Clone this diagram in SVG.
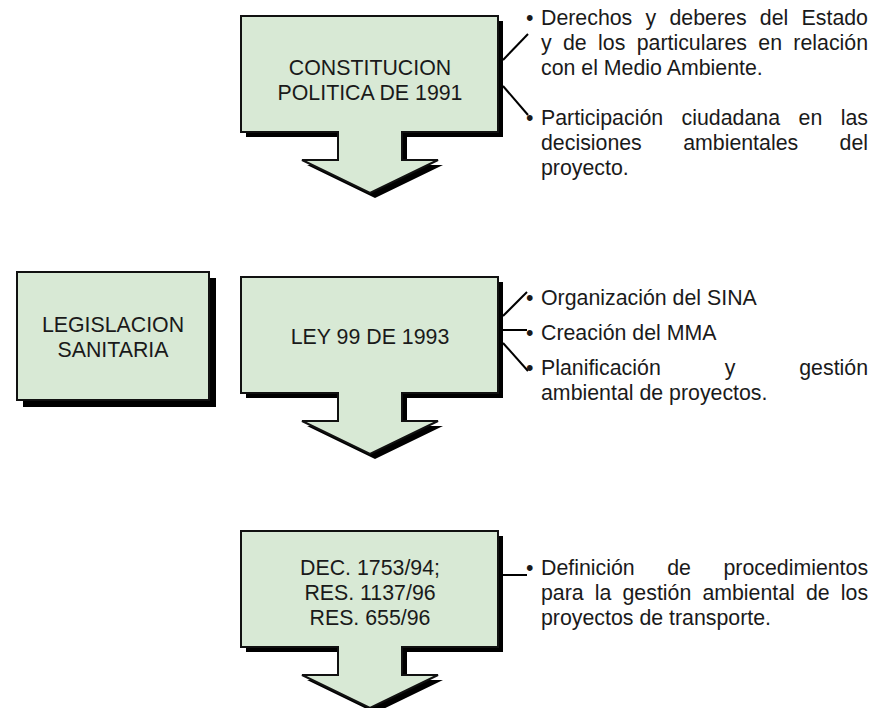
<svg xmlns="http://www.w3.org/2000/svg" width="893" height="708" viewBox="0 0 893 708">
<style>
text{font-family:"Liberation Sans",Arial,sans-serif;font-size:21.33px;fill:#1a1a1a}
.c{text-anchor:middle}
.box{fill:#d8e9d5;stroke:#111;stroke-width:2}
.sh{fill:#000}
.ln{stroke:#000;stroke-width:2;fill:none}
</style>
<defs>
<path id="arr" d="M0,0 H257 V116 H161 V144 H197 L129,177 L61,144 H97 V116 H0 Z"/>
</defs>
<rect width="893" height="708" fill="#fff"/>
<g id="n-legislacion">
<rect class="sh" x="23" y="278" width="193" height="129"/>
<rect class="box" x="17" y="272" width="192" height="128"/>
<text class="c" x="113" y="332">LEGISLACION</text>
<text class="c" x="113" y="357">SANITARIA</text>
</g>
<g id="n-constitucion">
<use href="#arr" class="sh" x="246" y="21"/>
<use href="#arr" class="box" x="241" y="16"/>
<text class="c" x="370" y="75">CONSTITUCION</text>
<text class="c" x="370" y="100">POLITICA DE 1991</text>
</g>
<g id="n-ley99">
<use href="#arr" class="sh" x="246" y="282"/>
<use href="#arr" class="box" x="241" y="277"/>
<text class="c" x="370" y="344">LEY 99 DE 1993</text>
</g>
<g id="n-dec">
<use href="#arr" class="sh" x="246" y="536"/>
<use href="#arr" class="box" x="241" y="531"/>
<text class="c" x="370" y="575">DEC. 1753/94;</text>
<text class="c" x="370" y="600">RES. 1137/96</text>
<text class="c" x="370" y="625">RES. 655/96</text>
</g>
<g id="connectors">
<line class="ln" x1="503" y1="60" x2="528" y2="34"/>
<line class="ln" x1="503" y1="86" x2="528" y2="115"/>
<line class="ln" x1="503" y1="316" x2="527" y2="292"/>
<line class="ln" x1="503" y1="330" x2="527" y2="330"/>
<line class="ln" x1="503" y1="343" x2="528" y2="371"/>
<line class="ln" x1="503" y1="575" x2="527" y2="575"/>
</g>
<g id="n-notes1">
<text x="526" y="25">•</text>
<text x="541" y="25" style="word-spacing:7.35px">Derechos y deberes del Estado</text>
<text x="541" y="50" style="word-spacing:5.42px">y de los particulares en relación</text>
<text x="541" y="75">con el Medio Ambiente.</text>
<text x="526" y="125">•</text>
<text x="541" y="125" style="word-spacing:12.57px">Participación ciudadana en las</text>
<text x="541" y="150" style="word-spacing:35.45px">decisiones ambientales del</text>
<text x="541" y="175">proyecto.</text>
</g>
<g id="n-notes2">
<text x="526" y="305">•</text>
<text x="541" y="305">Organización del SINA</text>
<text x="526" y="340">•</text>
<text x="541" y="340">Creación del MMA</text>
<text x="526" y="375">•</text>
<text x="541" y="375" style="word-spacing:58px">Planificación y gestión</text>
<text x="541" y="400">ambiental de proyectos.</text>
</g>
<g id="n-notes3">
<text x="526" y="575">•</text>
<text x="541" y="575" style="word-spacing:26.6px">Definición de procedimientos</text>
<text x="541" y="600" style="word-spacing:5.18px">para la gestión ambiental de los</text>
<text x="541" y="625">proyectos de transporte.</text>
</g>
</svg>
